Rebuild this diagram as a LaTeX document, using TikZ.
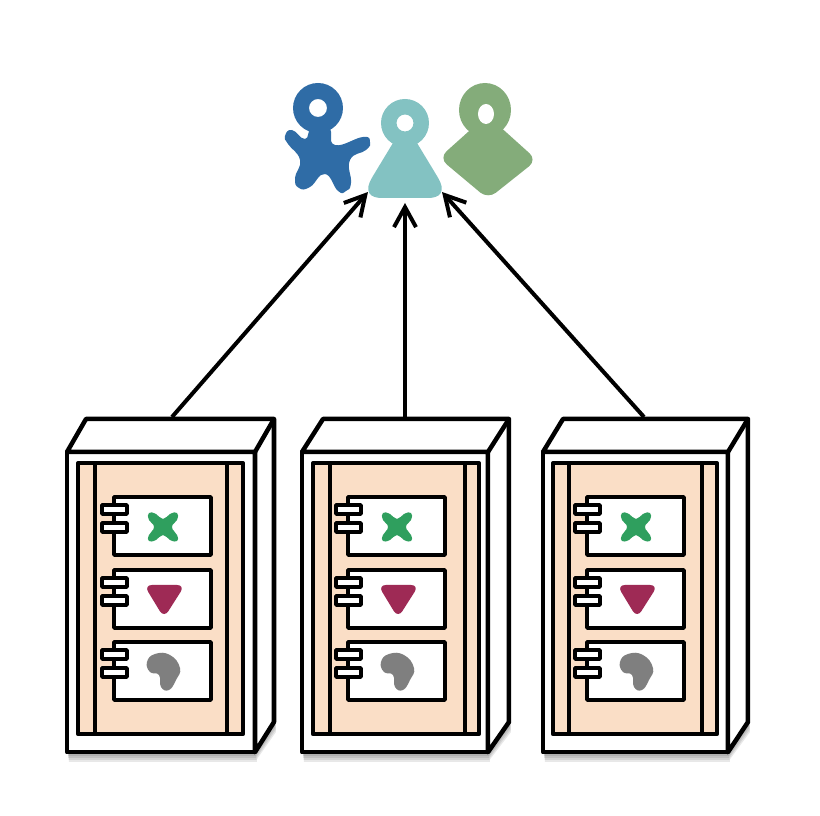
\documentclass[tikz,border=0pt]{standalone}
\usetikzlibrary{arrows.meta}

\definecolor{panelfill}{HTML}{FADEC6}
\definecolor{userblue}{HTML}{2F6CA6}
\definecolor{userteal}{HTML}{83C2C2}
\definecolor{usergreen}{HTML}{84AC7A}
\definecolor{iconx}{HTML}{2F9F5E}
\definecolor{icontri}{HTML}{9E2A55}
\definecolor{iconblob}{HTML}{7F7F7F}

\begin{document}
\begin{tikzpicture}[
  x=0.01cm, y=-0.01cm,
  line join=round,
  cabbox/.style={rectangle, draw, line width=0.045cm, fill=white, anchor=north west, outer sep=0pt, inner sep=0pt},
  panel/.style={rectangle, draw, line width=0.04cm, fill=panelfill, anchor=north west, outer sep=0pt, inner sep=0pt},
  comp/.style={rectangle, draw, line width=0.035cm, fill=white, anchor=north west, outer sep=0pt, inner sep=0pt, minimum width=0.97cm, minimum height=0.58cm},
  tab/.style={rectangle, draw, line width=0.035cm, fill=white, anchor=north west, outer sep=0pt, inner sep=0pt, minimum width=0.25cm, minimum height=0.09cm},
  ar/.style={-{Straight Barb[length=2mm, width=2.2mm]}, line width=0.04cm}
]
\useasboundingbox (0,0) rectangle (820,816);
% users
\fill[userblue] plot[smooth cycle, tension=0.85] coordinates {(312,128) (305,139) (292,130) (285,136) (288,144) (300,160) (295,178) (299,188) (310,187) (325,174) (338,191) (346,191) (351,183) (350,160) (366,150) (370,142) (363,137) (335,145) (329,128)};
\fill[userblue, even odd rule] (318,108) circle[radius=25] (318,108) circle[radius=9];
\fill[userteal] (396,138)--(373,176) .. controls (363,192) and (370,198) .. (382,198)--(428,198) .. controls (440,198) and (447,192) .. (437,176)--(414,138)--cycle;
\fill[userteal, even odd rule] (405,123) circle[radius=24] (405,123) circle[radius=8.5];
\fill[usergreen, rounded corners=0.1cm] (487,115)--(537,160)--(488,199)--(439,158)--cycle;
\fill[usergreen] (485,110) ellipse[x radius=26, y radius=27];
\fill[white] (486,114) ellipse[x radius=8, y radius=10];
% cabinets
\foreach \n/\x/\w/\d/\pl/\pr/\ll/\lr/\c in {1/67/188/19/78/243/95/227/114, 2/302/186/21/313/479/330/465/348, 3/543/185/20/553/717/569/702/587}{
  \foreach \s in {2,4,6,8,10}
    \fill[black, opacity=0.09] (\x+\s*0.2,452+\s) rectangle (\x+\w+\s*0.2,752+\s) (\x+\w,752+\s)--(\x+\w+\d+\s*0.2,722+\s)--(\x+\w+\d+\s*0.2,600)--(\x+\w,600)--cycle;
  \node[cabbox, minimum width=\w*0.01cm, minimum height=3cm] (front\n) at (\x,452) {};
  \draw[line width=0.045cm, fill=white] (front\n.north west)--++(\d,-33)--++(\w,0)--++(0,303)--(front\n.south east)--(front\n.north east)--cycle;
  \draw[line width=0.045cm] (front\n.north east)--++(\d,-33);
  \node[panel, minimum width=(\pr-\pl)*0.01cm, minimum height=2.71cm] (panel\n) at (\pl,463) {};
  \draw[line width=0.04cm] (\ll,463)--(\ll,734) (\lr,463)--(\lr,734);
  \foreach \r/\t in {1/497,2/570,3/642}{
    \node[comp] (comp\n\r) at (\c,\t) {};
    \node[tab] (taba\n\r) at (\c-12,\t+8) {};
    \node[tab] (tabb\n\r) at (\c-12,\t+26) {};
  }
  \fill[iconx] plot[smooth cycle, tension=0.9] coordinates {(\c+35,513) (\c+42,514) (\c+49,519) (\c+56,514) (\c+63,513) (\c+63,520) (\c+58,527) (\c+63,535) (\c+63,541) (\c+56,540) (\c+49,535) (\c+42,540) (\c+35,541) (\c+35,535) (\c+40,527) (\c+35,520)};
  \fill[icontri, rounded corners=0.08cm] (\c+30,585)--(\c+71,585)--(\c+50,618)--cycle;
  \fill[iconblob] plot[smooth cycle, tension=0.8] coordinates {(\c+33,662) (\c+41,654) (\c+56,655) (\c+66,668) (\c+62,680) (\c+55,690) (\c+47,687) (\c+45,675) (\c+36,672)};
}
% connectors
\coordinate (start1) at (172,417);
\coordinate (start2) at (405,417);
\coordinate (start3) at (644,417);
\coordinate (endl) at (368,192);
\coordinate (endm) at (405,203);
\coordinate (endr) at (442,192);
\draw[ar] (start1)--(endl);
\draw[ar] (start2)--(endm);
\draw[ar] (start3)--(endr);
\end{tikzpicture}
\end{document}
